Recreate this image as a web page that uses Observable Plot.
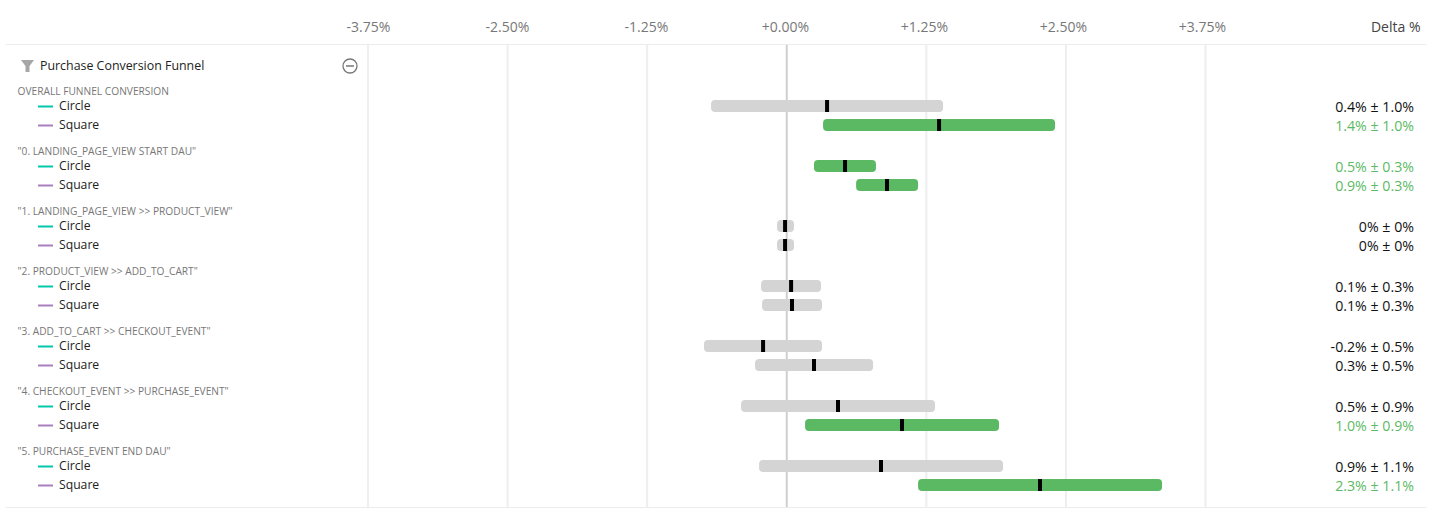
<!DOCTYPE html>
<html><head><meta charset="utf-8">
<script src="https://cdn.jsdelivr.net/npm/d3@7"></script>
<script src="https://cdn.jsdelivr.net/npm/@observablehq/plot@0.6"></script>
<style>html,body{margin:0;padding:0;background:#fff}svg{display:block}</style>
</head><body><div id="chart"></div>
<script>
const groups = ["OVERALL FUNNEL CONVERSION","\"0. LANDING_PAGE_VIEW START DAU\"","\"1. LANDING_PAGE_VIEW >> PRODUCT_VIEW\"","\"2. PRODUCT_VIEW >> ADD_TO_CART\"","\"3. ADD_TO_CART >> CHECKOUT_EVENT\"","\"4. CHECKOUT_EVENT >> PURCHASE_EVENT\"","\"5. PURCHASE_EVENT END DAU\""];
const seriesNames = ["Circle","Square"];
const tickValues = [-3.75,-2.5,-1.25,0,1.25,2.5,3.75];
const tickLabels = ["-3.75%","-2.50%","-1.25%","+0.00%","+1.25%","+2.50%","+3.75%"];
const lows   = [-0.678,0.325, 0.244,0.621, -0.087,-0.087, -0.230,-0.221, -0.741,-0.284, -0.409,0.164, -0.248,1.176];
const highs  = [1.400,2.403, 0.799,1.176, 0.065,0.065, 0.307,0.316, 0.316,0.773, 1.328,1.901, 1.937,3.361];
const means  = [0.361,1.364, 0.522,0.898, -0.015,-0.015, 0.039,0.047, -0.212,0.244, 0.459,1.032, 0.844,2.268];
const deltas = ["0.4% ± 1.0%","1.4% ± 1.0%","0.5% ± 0.3%","0.9% ± 0.3%","0% ± 0%","0% ± 0%","0.1% ± 0.3%","0.1% ± 0.3%","-0.2% ± 0.5%","0.3% ± 0.5%","0.5% ± 0.9%","1.0% ± 0.9%","0.9% ± 1.1%","2.3% ± 1.1%"];
const significant = [false,true,true,true,false,false,false,false,false,false,false,true,false,true];

const GREEN="#5cb963", GREY="#d4d4d4", F="'Open Sans'";
const rowStep=60, sub=19/rowStep;
const rows = lows.map((low,i)=>{
  const g=Math.floor(i/2), s=i%2;
  return {g, series:seriesNames[s], y:g+s*sub, low, high:highs[i], mean:means[i], delta:deltas[i], sig:significant[i]};
});
const half=6/rowStep;
const yTop=-62/rowStep, yBottom=401/rowStep;

const chart = Plot.plot({
  width:1432, height:521, marginTop:44, marginBottom:14, marginLeft:0, marginRight:0,
  style:{fontFamily:F, background:"#fff"},
  x:{domain:[-3.75,3.75], range:[367.5,1205], axis:null},
  y:{domain:[yTop,yBottom], range:[44,507], axis:null},
  marks:[
    Plot.ruleX(tickValues.filter(d=>d!==0),{stroke:"#eeeeee",strokeWidth:2}),
    Plot.ruleX([0],{stroke:"#cfcfcf",strokeWidth:2}),
    Plot.ruleY([yTop,yBottom],{stroke:"#ececec",strokeWidth:1,insetLeft:6,insetRight:6}),
    Plot.text(tickLabels,{x:(d,i)=>tickValues[i]*0.9957-0.012,frameAnchor:"top",dy:-17,fontSize:14,fill:"#777",lineAnchor:"middle"}),
    Plot.text(["Delta %"],{frameAnchor:"top-right",dx:-12,dy:-17,fontSize:14,fill:"#444",textAnchor:"end",lineAnchor:"middle"}),
    Plot.rect(rows,{x1:"low",x2:"high",y1:d=>d.y-half,y2:d=>d.y+half,fill:d=>d.sig?GREEN:GREY,rx:4,dx:0.5}),
    Plot.ruleX(rows,{x:"mean",y1:d=>d.y-half,y2:d=>d.y+half,stroke:"#000",strokeWidth:4}),
    Plot.text(rows,{y:"y",text:"delta",frameAnchor:"right",dx:-18.5,dy:1,textAnchor:"end",fontSize:14.2,fill:d=>d.sig?GREEN:"#111"}),
    Plot.text(rows,{y:"y",text:"series",frameAnchor:"left",dx:58.5,textAnchor:"start",fontSize:12.2,fill:"#222"}),
    Plot.ruleY(rows,{y:"y",insetLeft:38,insetRight:1432-53,strokeWidth:2,stroke:d=>d.series==="Circle"?"#00c9ab":"#a97fc0"}),
    Plot.text(groups,{y:(d,i)=>i,text:d=>d,frameAnchor:"left",dx:17,dy:-15,textAnchor:"start",fontSize:10.2,fill:"#777"}),
    Plot.text(["Purchase Conversion Funnel"],{y:[-41/rowStep],frameAnchor:"left",dx:39.5,dy:1,textAnchor:"start",fontSize:12.4,fill:"#222"}),
    ()=>{
      const ns="http://www.w3.org/2000/svg";
      const g=document.createElementNS(ns,"g");
      const add=(t,a)=>{const e=document.createElementNS(ns,t);for(const k in a)e.setAttribute(k,a[k]);g.appendChild(e);};
      add("path",{d:"M21 60 H34 L29.5 66 V72 H25.5 V66 Z",fill:"#a6a6a6"});
      add("circle",{cx:350,cy:66,r:7,fill:"none",stroke:"#777","stroke-width":1.3});
      add("line",{x1:346,x2:354,y1:66,y2:66,stroke:"#777","stroke-width":1.5});
      return g;
    }
  ]
});
document.getElementById("chart").appendChild(chart);
</script></body></html>
